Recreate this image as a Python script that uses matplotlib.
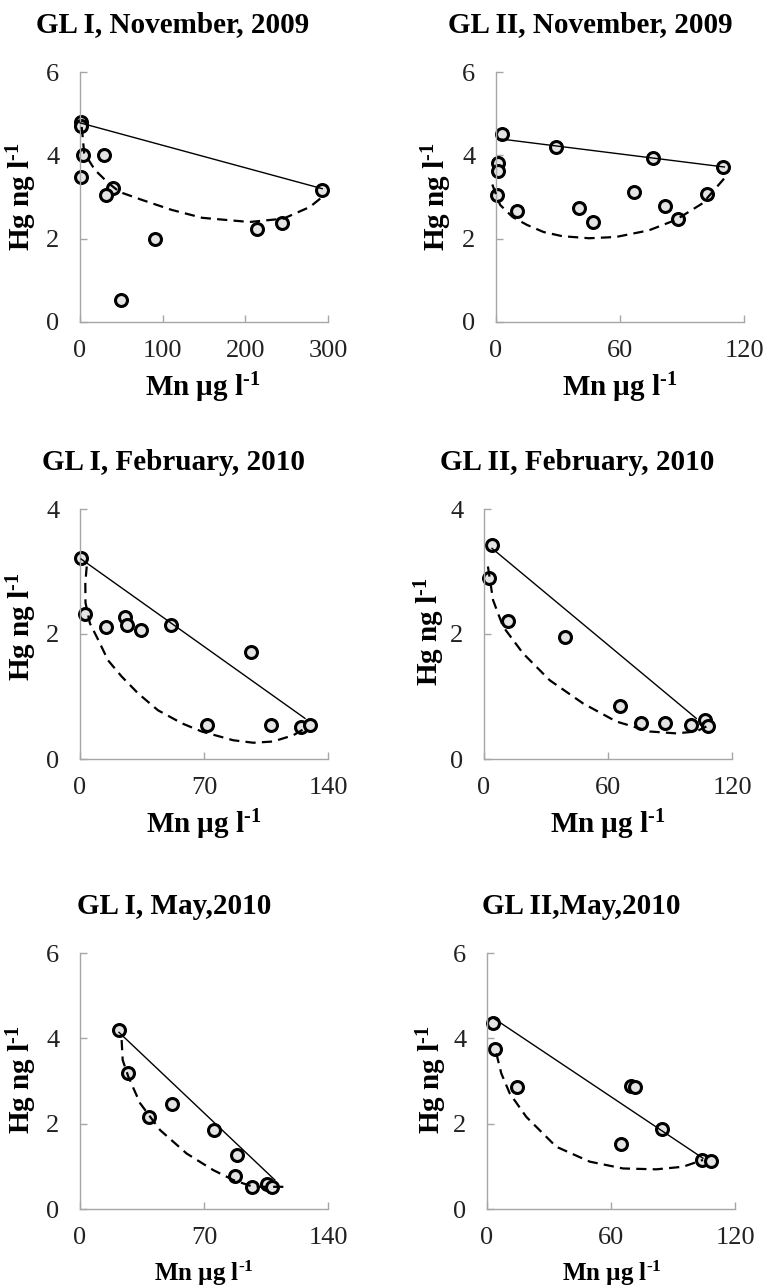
import matplotlib
matplotlib.use("Agg")
import matplotlib.pyplot as plt

plt.rcParams['font.family'] = ['Liberation Serif', 'DejaVu Serif']
plt.rcParams['mathtext.fontset'] = 'custom'
plt.rcParams['mathtext.rm'] = 'Liberation Serif:bold'
plt.rcParams['mathtext.it'] = 'Liberation Serif:bold'
plt.rcParams['mathtext.bf'] = 'Liberation Serif:bold'
plt.rcParams['mathtext.default'] = 'rm'

# ---- GL I, November 2009
gl1_nov_mn = [1, 1, 4, 29, 1, 40, 32, 91, 50, 214, 244, 293]
gl1_nov_hg = [4.8, 4.7, 4.0, 4.0, 3.49, 3.21, 3.05, 2.0, 0.52, 2.24, 2.38, 3.18]
gl1_nov_line_mn = [0, 293]
gl1_nov_line_hg = [4.78, 3.2]
gl1_nov_curve_mn = [2, 3, 5, 18, 34, 48, 75, 111, 148, 205, 246, 278, 293]
gl1_nov_curve_hg = [4.68, 4.5, 4.06, 3.65, 3.34, 3.12, 2.93, 2.69, 2.5, 2.4, 2.48, 2.76, 3.0]

# ---- GL II, November 2009
gl2_nov_mn = [3, 29, 1, 1, 0.6, 10, 40, 47, 67, 76, 82, 88, 102, 110]
gl2_nov_hg = [4.51, 4.19, 3.82, 3.63, 3.05, 2.67, 2.73, 2.41, 3.11, 3.94, 2.79, 2.47, 3.07, 3.71]
gl2_nov_line_mn = [1, 110.5]
gl2_nov_line_hg = [4.40, 3.72]
gl2_nov_curve_mn = [-1.8, 0.5, 2, 8, 15, 23, 32, 45, 58, 74, 87, 100, 110.5]
gl2_nov_curve_hg = [3.3, 3.0, 2.81, 2.52, 2.33, 2.16, 2.06, 2.01, 2.04, 2.2, 2.45, 2.85, 3.45]

# ---- GL I, February 2010
gl1_feb_mn = [0.6, 2.8, 14.5, 25.4, 26.7, 34.4, 51.2, 71.5, 96.5, 107.6, 124.6, 129.8]
gl1_feb_hg = [3.21, 2.32, 2.11, 2.27, 2.14, 2.07, 2.15, 0.54, 1.71, 0.54, 0.52, 0.55]
gl1_feb_line_mn = [0.6, 127]
gl1_feb_line_hg = [3.2, 0.65]
gl1_feb_curve_mn = [3.8, 3.0, 3.1, 5.6, 10.4, 15.8, 23.5, 32.8, 44, 57.6, 68.7, 86.5, 97.9, 109, 120.4, 127]
gl1_feb_curve_hg = [3.08, 2.82, 2.5, 2.17, 1.9, 1.58, 1.32, 1.05, 0.78, 0.57, 0.44, 0.30, 0.26, 0.28, 0.38, 0.49]

# ---- GL II, February 2010
gl2_feb_mn = [3.9, 2.3, 11.6, 39.0, 65.6, 75.8, 87.4, 100.3, 106.8, 108.4]
gl2_feb_hg = [3.42, 2.89, 2.21, 1.95, 0.85, 0.57, 0.58, 0.54, 0.62, 0.53]
gl2_feb_line_mn = [3.9, 102.7]
gl2_feb_line_hg = [3.37, 0.65]
gl2_feb_curve_mn = [1.9, 4.4, 9.2, 18.9, 31.8, 47.9, 64.0, 80.2, 93, 102.7, 107.6]
gl2_feb_curve_hg = [3.08, 2.54, 2.12, 1.69, 1.26, 0.89, 0.60, 0.44, 0.41, 0.44, 0.52]

# ---- GL I, May 2010
gl1_may_mn = [22, 27.3, 39, 52.1, 75.8, 88.8, 87.5, 97.3, 105.4, 108.2]
gl1_may_hg = [4.2, 3.18, 2.16, 2.46, 1.85, 1.27, 0.78, 0.52, 0.58, 0.52]
gl1_may_line_mn = [22, 110]
gl1_may_line_hg = [4.14, 0.68]
gl1_may_curve_mn = [23.5, 24.1, 27.3, 33.9, 45.2, 60.2, 75.3, 86.5, 97.8, 114.8]
gl1_may_curve_hg = [3.96, 3.49, 3.1, 2.48, 1.85, 1.3, 0.91, 0.68, 0.52, 0.52]

# ---- GL II, May 2010
gl2_may_mn = [2.9, 4.0, 14.7, 69.8, 71.8, 64.7, 84.7, 104.2, 108.5]
gl2_may_hg = [4.37, 3.75, 2.85, 2.88, 2.87, 1.52, 1.88, 1.15, 1.12]
gl2_may_line_mn = [2.9, 104.5]
gl2_may_line_hg = [4.48, 1.19]
gl2_may_curve_mn = [4.5, 6.9, 11, 19, 33.5, 49.7, 65.8, 81.9, 94.8, 104.5]
gl2_may_curve_hg = [3.65, 3.18, 2.71, 2.16, 1.46, 1.11, 0.95, 0.93, 0.99, 1.15]

titles = ['GL I, November, 2009', 'GL II, November, 2009',
          'GL I, February, 2010', 'GL II, February, 2010',
          'GL I, May,2010', 'GL II,May,2010']

W, H = 766, 1287
fig = plt.figure(figsize=(W / 100, H / 100), dpi=100)

# axes boxes in pixels: left, top, right, bottom
boxes = [(80, 72, 328, 322), (496, 72, 744, 322),
         (80, 509, 328, 759), (484, 509, 732, 759),
         (80, 953, 328, 1209), (487, 953, 735, 1209)]
xticks = [[0, 100, 200, 300], [0, 60, 120], [0, 70, 140],
          [0, 60, 120], [0, 70, 140], [0, 60, 120]]
yticks = [[0, 2, 4, 6], [0, 2, 4, 6], [0, 2, 4], [0, 2, 4],
          [0, 2, 4, 6], [0, 2, 4, 6]]
title_pos = [(173, 25), (590, 25), (173, 463), (577, 463), (174, 907), (581, 907)]
xlab_pos = [(203, 388), (620, 388), (204, 825), (608, 825), (204, 1273), (612, 1273)]
xlab_size = [21, 21, 21, 21, 18, 18]
ylab_pos = [(22, 197), (437, 197), (22, 627), (430, 632), (22, 1080), (432, 1080)]

data = [
    (gl1_nov_mn, gl1_nov_hg, gl1_nov_line_mn, gl1_nov_line_hg, gl1_nov_curve_mn, gl1_nov_curve_hg),
    (gl2_nov_mn, gl2_nov_hg, gl2_nov_line_mn, gl2_nov_line_hg, gl2_nov_curve_mn, gl2_nov_curve_hg),
    (gl1_feb_mn, gl1_feb_hg, gl1_feb_line_mn, gl1_feb_line_hg, gl1_feb_curve_mn, gl1_feb_curve_hg),
    (gl2_feb_mn, gl2_feb_hg, gl2_feb_line_mn, gl2_feb_line_hg, gl2_feb_curve_mn, gl2_feb_curve_hg),
    (gl1_may_mn, gl1_may_hg, gl1_may_line_mn, gl1_may_line_hg, gl1_may_curve_mn, gl1_may_curve_hg),
    (gl2_may_mn, gl2_may_hg, gl2_may_line_mn, gl2_may_line_hg, gl2_may_curve_mn, gl2_may_curve_hg),
]

grey = '#a6a6a6'
unit = r'l$^{\text{-1}}$'
for i in range(6):
    l, t, r, b = boxes[i]
    ax = fig.add_axes([l / W, 1 - b / H, (r - l) / W, (b - t) / H])
    mn, hg, lmn, lhg, cmn, chg = data[i]

    ax.plot(mn, hg, 'o', ms=8.6, mfc='#e4e4e4', mec='black', mew=2.2,
            zorder=2, clip_on=False)
    ax.plot(lmn, lhg, '-', color='black', lw=1.0, zorder=3, clip_on=False)
    ax.plot(cmn, chg, color='black', lw=1.6, ls=(0, (4.6, 2.8)),
            zorder=3, clip_on=False)

    ax.set_xlim(xticks[i][0], xticks[i][-1])
    ax.set_ylim(yticks[i][0], yticks[i][-1])
    ax.set_xticks(xticks[i])
    ax.set_yticks(yticks[i])
    for s in ['top', 'right']:
        ax.spines[s].set_visible(False)
    for s in ['left', 'bottom']:
        ax.spines[s].set_color(grey)
        ax.spines[s].set_linewidth(1.0)
    ax.tick_params(axis='both', direction='in', length=5, width=1.0,
                   color=grey, labelsize=19, labelcolor='#222222')
    ax.tick_params(axis='y', pad=15)
    ax.tick_params(axis='x', pad=13)
    ax.patch.set_alpha(0)

    tx, ty = title_pos[i]
    fig.text(tx / W, 1 - ty / H, titles[i], ha='center', va='center',
             fontsize=21, fontweight='bold')
    xx, xy = xlab_pos[i]
    fig.text(xx / W, 1 - xy / H, 'Mn µg ' + unit, ha='center', va='center',
             fontsize=xlab_size[i], fontweight='bold')
    yx, yy = ylab_pos[i]
    fig.text(yx / W, 1 - yy / H, 'Hg ng ' + unit, ha='center', va='center',
             rotation=90, fontsize=21, fontweight='bold')

fig.savefig('out.png', dpi=100)
